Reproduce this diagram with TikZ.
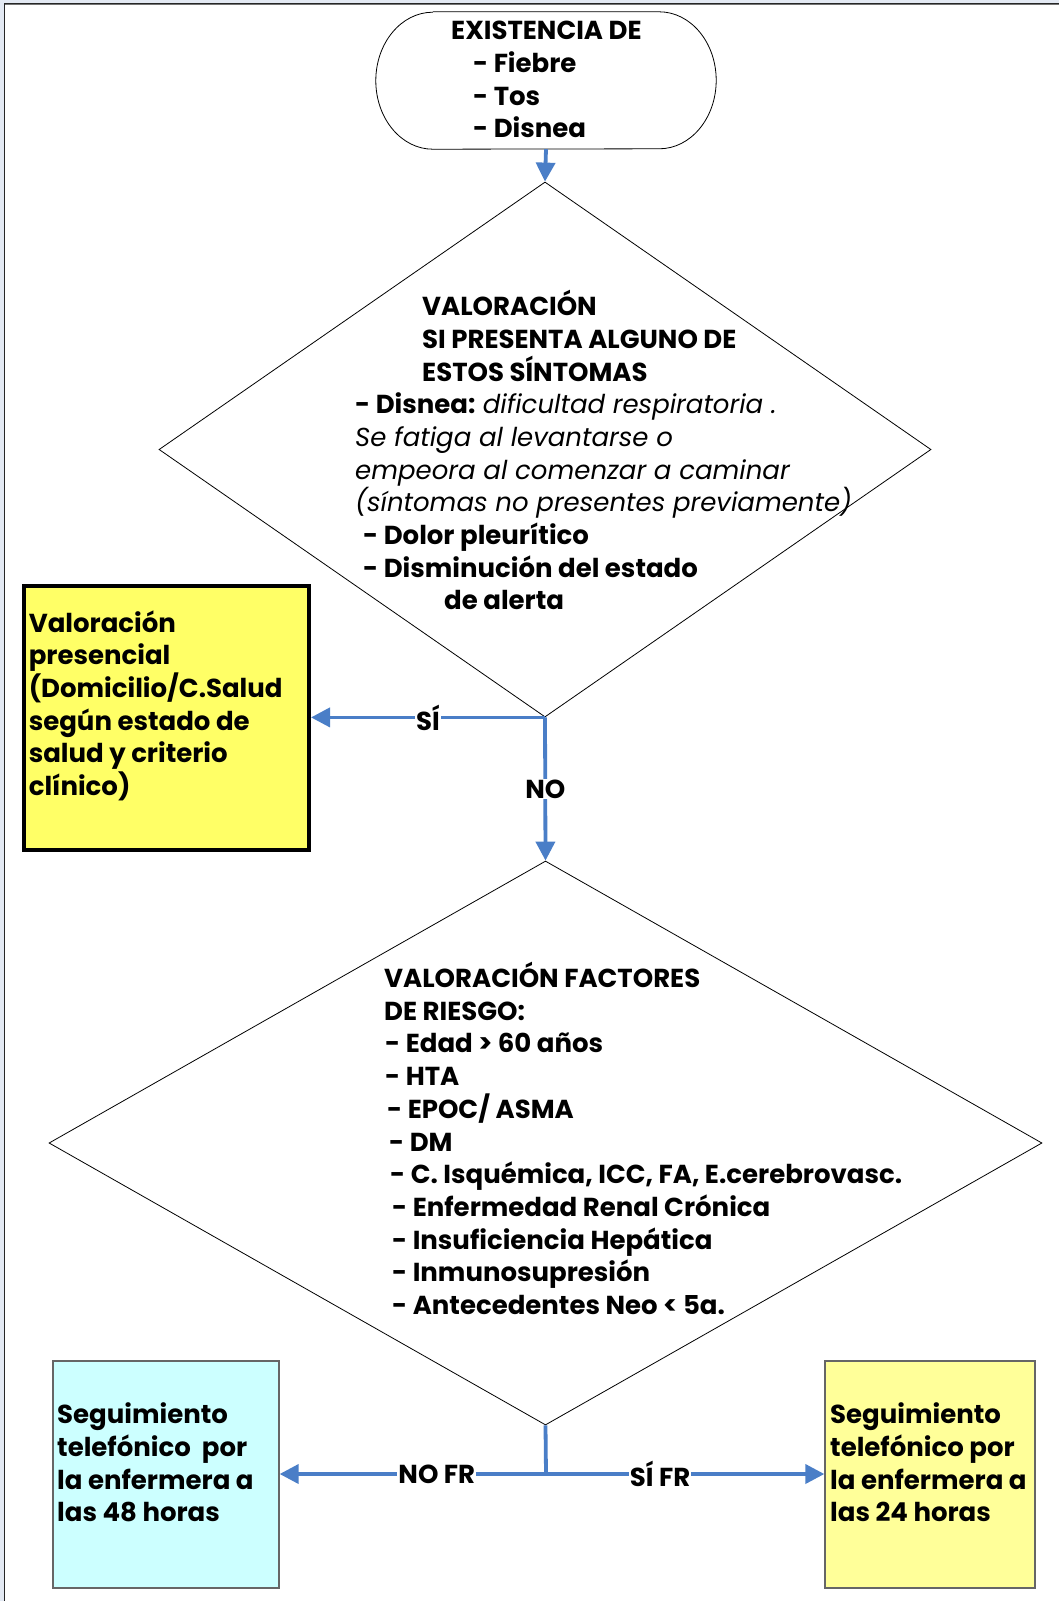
\documentclass[tikz,border=0pt]{standalone}
\usepackage{fontspec}
\setmainfont{Poppins}
\usetikzlibrary{shapes.geometric,arrows.meta}
\definecolor{flecha}{HTML}{4A7EC7}
\definecolor{amarillo}{HTML}{FFFF66}
\definecolor{amarillopal}{HTML}{FFFF99}
\definecolor{celeste}{HTML}{CCFFFF}
\definecolor{marco}{HTML}{E3E9F3}

\begin{document}
\begin{tikzpicture}[x=1pt,y=-1pt,
        every node/.style={font=\fontsize{26}{32.7}\selectfont\bfseries},
        rombo/.style 2 args={diamond,draw,line width=0.8pt,inner sep=0,minimum width=#1,minimum height=#2},
        caja/.style 2 args={rectangle,inner sep=0,minimum width=#1,minimum height=#2},
        texto/.style={anchor=base west,align=left,inner sep=0},
        conector/.style={draw=flecha,line width=3.8pt},
        flecha/.style={conector,-{Triangle[length=19pt,width=19pt]}},
        etiq/.style={fill=white,inner sep=1pt}]
    \useasboundingbox (0,0) rectangle (1059,1601);
    \fill[marco] (0,0) rectangle (1059,3);
    \fill[marco] (0,0) rectangle (4,1601);
    \draw[line width=0.9pt,black!55] (4.5,4.8) -- (1059,4.8);
    \draw[line width=1pt,black!85] (1059,3.5) -- (4.5,3.5) -- (4.5,1601);

    \node[caja={340}{137}] (inicio) at (546,80.5) {};
    \draw[line width=0.8pt] ([xshift=57pt]inicio.north west) -- ([xshift=-57pt]inicio.north east)
        arc[start angle=-90,end angle=90,x radius=57,y radius=68.5]
        -- ([xshift=57pt]inicio.south west)
        arc[start angle=90,end angle=270,x radius=57,y radius=68.5];
    \node[texto] (tinicio) at (451,137.9) {EXISTENCIA DE\\\hspace{22pt}- Fiebre\\\hspace{22pt}- Tos\\\hspace{22pt}- Disnea};

    \node[rombo={772}{535}] (valora) at (545,449.5) {};
    \node[texto] (tvalora) at (422,381) {VALORACIÓN\\SI PRESENTA ALGUNO DE\\ESTOS SÍNTOMAS};
    \node[texto] (sintomas) at (355,609.8) {- Disnea: {\mdseries\itshape dificultad respiratoria .}\\
        {\mdseries\itshape Se fatiga al levantarse o}\\
        {\mdseries\itshape empeora al comenzar a caminar}\\
        {\mdseries\itshape (síntomas no presentes previamente)}\\
        \hspace{8pt}- Dolor pleurítico\\
        \hspace{8pt}- Disminución del estado\\
        \hspace{89pt}de alerta};

    \node[caja={285}{264},draw,line width=4pt,fill=amarillo] (presencial) at (166.5,718) {};
    \node[texto] (tpresencial) at (28.6,795.5) {Valoración\\presencial\\(Domicilio/C.Salud\\según estado de\\salud y criterio\\clínico)};

    \node[rombo={993}{564}] (factores) at (545.5,1143) {};
    \node[texto] (tfactores) at (384,1314.5) {VALORACIÓN FACTORES\\DE RIESGO:\\
        \hspace{1pt}- Edad > 60 años\\
        \hspace{1pt}- HTA\\
        \hspace{3pt}- EPOC/ ASMA\\
        \hspace{5pt}- DM\\
        \hspace{6pt}- C. Isquémica, ICC, FA, E.cerebrovasc.\\
        \hspace{8pt}- Enfermedad Renal Crónica\\
        \hspace{8pt}- Insuficiencia Hepática\\
        \hspace{8pt}- Inmunosupresión\\
        \hspace{8pt}- Antecedentes Neo < 5a.};

    \node[caja={226}{227},draw=black!60,line width=1.3pt,fill=celeste] (seg48) at (166,1474.5) {};
    \node[texto] (tseg48) at (57,1521.7) {Seguimiento\\telefónico\ \ por\\la enfermera a\\las 48 horas};
    \node[caja={210}{227},draw=black!60,line width=1.3pt,fill=amarillopal] (seg24) at (930,1474.5) {};
    \node[texto] (tseg24) at (830,1521.7) {Seguimiento\\telefónico por\\la enfermera a\\las 24 horas};

    \coordinate (reparto) at (546,1474);

    \draw[flecha] (inicio.south) -- (valora.north);
    \draw[flecha] (valora.south) -- node[etiq] {SÍ} (valora.south -| presencial.east);
    \draw[flecha] (valora.south) -- node[etiq] {NO} (factores.north);
    \draw[conector] (factores.south) -- (reparto);
    \draw[flecha] (reparto) -- node[etiq,pos=0.41] {NO FR} (reparto -| seg48.east);
    \draw[flecha] (reparto) -- node[etiq,pos=0.41] {SÍ FR} (reparto -| seg24.west);
\end{tikzpicture}
\end{document}
